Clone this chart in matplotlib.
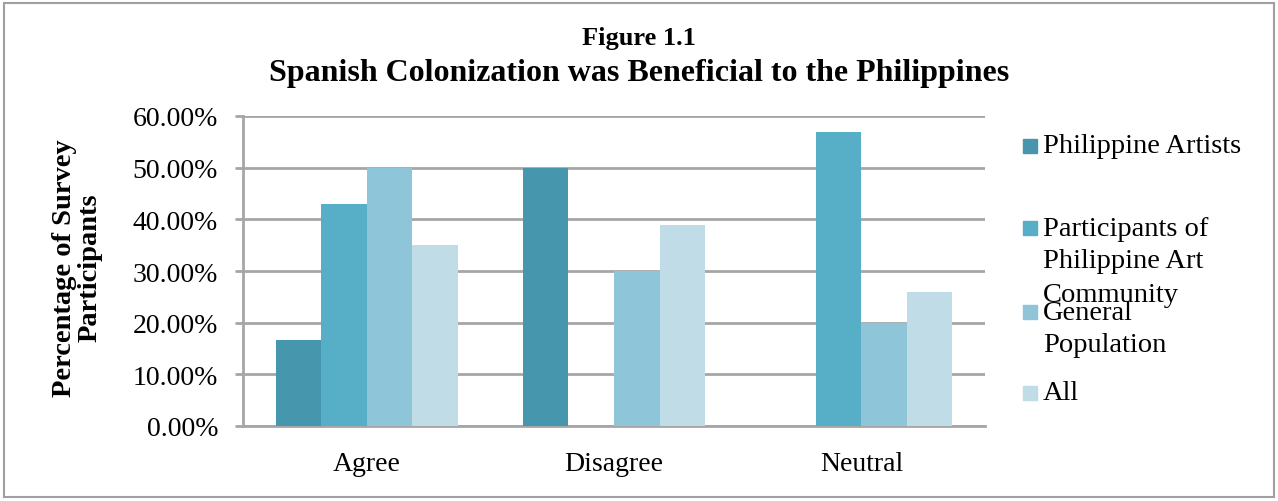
import matplotlib.pyplot as plt
import matplotlib.patches as mpatches
import numpy as np

categories = ['Agree', 'Disagree', 'Neutral']
series_names = ['Philippine Artists', 'Participants of\nPhilippine Art\nCommunity', 'General\nPopulation', 'All']
philippine_artists = [16.7, 50.0, 0.0]
art_community = [43.0, 0.0, 57.0]
general_population = [50.0, 30.0, 20.0]
all_participants = [35.0, 39.0, 26.0]
yticks = [0, 10, 20, 30, 40, 50, 60]

colors = ['#4697ae', '#56afc7', '#8fc5d9', '#c0dde7']
grid_color = '#a6a6a6'
serif = ['Liberation Serif', 'DejaVu Serif']

fig = plt.figure(figsize=(12.78, 5.02), dpi=100)
ax = fig.add_axes([243 / 1278, 1 - 427 / 502, (985 - 243) / 1278, (427 - 117) / 502])

series = [philippine_artists, art_community, general_population, all_participants]
x = np.arange(len(categories))
width = 0.184
for i, vals in enumerate(series):
    ax.bar(x + (i - 1.5) * width, vals, width, color=colors[i], zorder=3)

ax.set_xlim(-0.5, len(categories) - 0.5)
ax.set_ylim(0, 60)
ax.set_yticks(yticks)
ax.set_yticklabels([f'{t:.2f}%' for t in yticks], fontsize=20, family=serif)
ax.set_xticks(x)
ax.set_xticklabels(categories, fontsize=20, family=serif)
ax.yaxis.grid(True, color=grid_color, linewidth=2, zorder=0)
for s in ['top', 'right']:
    ax.spines[s].set_visible(False)
for s in ['left', 'bottom']:
    ax.spines[s].set_color(grid_color)
    ax.spines[s].set_linewidth(2)
ax.tick_params(axis='y', length=6, width=2, color=grid_color, pad=12)
ax.tick_params(axis='x', length=0, pad=18)

# y axis title placed by hand
fig.text(77 / 1278, 1 - 268 / 502, 'Percentage of Survey\nParticipants', rotation=90,
         ha='center', va='center', fontsize=20.5, fontweight='bold', family=serif,
         linespacing=1.05)

fig.text(0.5, 1 - 38 / 502, 'Figure 1.1', ha='center', va='center', fontsize=19,
         fontweight='bold', family=serif)
fig.text(0.5, 1 - 73 / 502, 'Spanish Colonization was Beneficial to the Philippines',
         ha='center', va='center', fontsize=23, fontweight='bold', family=serif)

# legend drawn by hand so the overlapping label spacing matches
legend_rows = [147, 229, 313, 394]
for i, name in enumerate(series_names):
    yc = legend_rows[i]
    fig.patches.append(mpatches.Rectangle((1023 / 1278, 1 - (yc + 7) / 502), 14 / 1278, 14 / 502,
                                          transform=fig.transFigure, color=colors[i]))
    lines = name.split('\n')
    for j, line in enumerate(lines):
        fig.text(1043 / 1278, 1 - (yc + j * 33) / 502, line, ha='left', va='center',
                 fontsize=20.5, family=serif)

# outer frame
fig.patches.append(mpatches.Rectangle((4 / 1278, 4 / 502), 1270 / 1278, 494 / 502,
                                      transform=fig.transFigure, fill=False,
                                      edgecolor='#a0a0a0', linewidth=1.5))

fig.savefig('out.png', dpi=100)
